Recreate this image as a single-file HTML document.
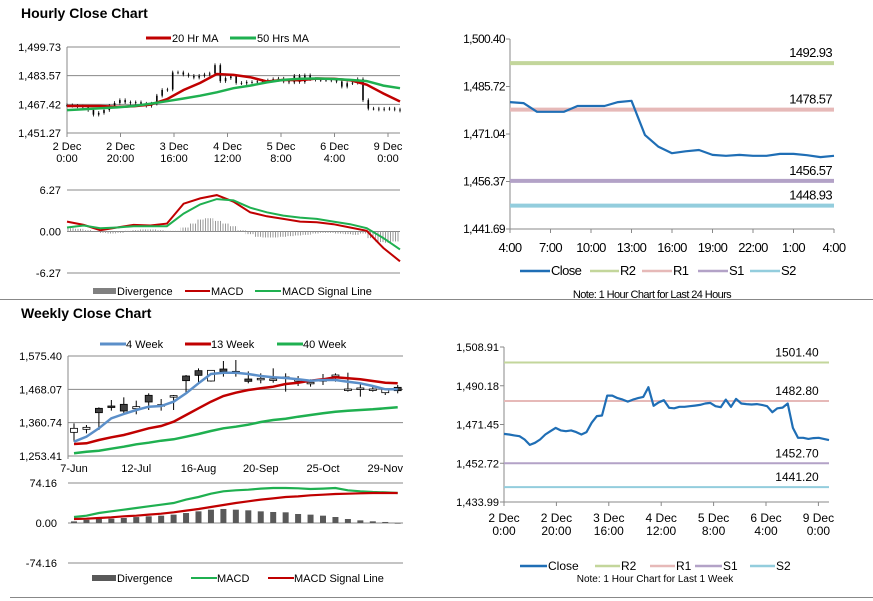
<!DOCTYPE html>
<html><head><meta charset="utf-8"><style>
html,body{margin:0;padding:0;background:#fff}
svg{display:block;font-family:"Liberation Sans",Arial,sans-serif}
</style></head><body>
<svg id="root" width="873" height="601" viewBox="0 0 873 601">
<defs><pattern id="hatch" width="2.5" height="4" patternUnits="userSpaceOnUse"><rect x="0" y="0" width="1" height="4" fill="#999"/></pattern></defs>
<text x="21" y="18" font-size="14" font-weight="bold">Hourly Close Chart</text>
<text x="21" y="318" font-size="14" font-weight="bold">Weekly Close Chart</text>
<line x1="0" y1="299.5" x2="873" y2="299.5" stroke="#888" stroke-width="1"/>
<line x1="10" y1="597.5" x2="873" y2="597.5" stroke="#888" stroke-width="1"/>
<g id="g"></g>
</svg>
<script>
// ---- data ----
const hourlyCloses=[1466.9,1466.6,1466.2,1465.8,1464.2,1461.6,1462.6,1464.2,1466.6,1468.2,1469.8,1468.6,1468.2,1468.6,1467.8,1466.6,1467.8,1472.3,1475.5,1475.8,1485.4,1485.4,1484.2,1483.5,1482.5,1483.5,1484.2,1484.8,1489.5,1480.5,1482.2,1483.2,1479.5,1479.3,1480.0,1480.0,1480.3,1480.6,1480.9,1481.6,1481.9,1480.3,1479.8,1483.5,1480.0,1483.8,1481.6,1481.3,1481.1,1481.3,1480.9,1480.3,1477.4,1479.3,1479.6,1481.6,1469.8,1465.0,1465.0,1464.5,1464.9,1465.0,1464.5,1463.9];
const ma20=[1466.5,1466.5,1466.5,1466.0,1466.3,1467.2,1470.3,1475.5,1479.5,1484.5,1484.0,1482.7,1480.3,1481.2,1481.0,1482.0,1481.8,1481.0,1478.5,1473.5,1469.0];
const ma50=[1464.2,1464.6,1465.2,1465.7,1466.5,1467.8,1469.2,1470.7,1472.3,1474.2,1476.5,1478.0,1479.8,1481.2,1481.8,1482.0,1481.7,1481.2,1480.5,1478.0,1476.5];
const hMacd=[1.5,1.0,0.2,0.6,1.0,0.9,1.2,4.2,5.0,5.5,4.5,2.9,2.3,1.9,1.5,1.4,1.1,0.6,0.1,-2.5,-4.5];
const hSignal=[0.6,0.9,0.5,0.6,0.8,0.8,0.8,2.7,4.1,4.9,4.7,3.6,2.9,2.4,2.1,1.9,1.5,1.1,0.5,-1.0,-2.7];
const hDiv=[0.5,0.4,0.2,0,-0.2,-0.3,-0.2,0.1,0.2,0.3,0.3,0.2,0.1,0.1,0.6,1.2,1.8,2.0,1.6,1.2,0.8,0.2,-0.4,-0.8,-0.9,-0.9,-0.8,-0.7,-0.6,-0.5,-0.3,-0.2,-0.2,-0.3,-0.4,-0.5,-0.3,-1.0,-1.6,-1.7,-1.5];
const hTicks=["1,451.27","1,467.42","1,483.57","1,499.73"];
const hTickVals=[1451.27,1467.42,1483.57,1499.73];
const hXLabels=[["2 Dec","0:00"],["2 Dec","20:00"],["3 Dec","16:00"],["4 Dec","12:00"],["5 Dec","8:00"],["6 Dec","4:00"],["9 Dec","0:00"]];
const hMacdTicks=["-6.27","0.00","6.27"];
const hMacdTickVals=[-6.27,0,6.27];

const dayCloses=[1480.9,1480.6,1477.9,1477.9,1477.9,1479.7,1479.7,1479.7,1480.9,1481.3,1470.7,1467.1,1465.1,1465.7,1466.1,1464.6,1464.3,1464.6,1464.3,1464.3,1464.9,1464.9,1464.5,1463.9,1464.3];
const dayTicks=["1,441.69","1,456.37","1,471.04","1,485.72","1,500.40"];
const dayTickVals=[1441.69,1456.37,1471.04,1485.72,1500.40];
const dayXLabels=["4:00","7:00","10:00","13:00","16:00","19:00","22:00","1:00","4:00"];
const dayLevels=[1492.93,1478.57,1456.57,1448.93];
const wkLevels=[1501.40,1482.80,1452.70,1441.20];
const levelNames=["R2","R1","S1","S2"];
const wkTicks=["1,433.99","1,452.72","1,471.45","1,490.18","1,508.91"];
const wkTickVals=[1433.99,1452.72,1471.45,1490.18,1508.91];

const wOpen=[1329.6,1339.3,1406.9,1414.4,1419.8,1405.8,1448.8,1416.6,1444.5,1511.0,1528.2,1494.9,1533.5,1523.9,1501.3,1501.3,1499.2,1505.6,1497.0,1488.5,1497.0,1509.9,1467.0,1470.2,1467.0,1457.3,1474.5];
const wClose=[1342.5,1345.7,1392.9,1410.1,1398.3,1412.3,1427.3,1418.7,1447.7,1496.0,1513.1,1529.2,1525.0,1526.0,1493.8,1503.5,1501.3,1507.8,1499.2,1490.6,1499.2,1514.2,1469.1,1472.4,1469.1,1468.1,1463.8];
const wHigh=[1358.6,1353.2,1410.1,1433.7,1442.3,1431.6,1455.2,1436.9,1449.8,1514.2,1535.7,1529.2,1559.3,1562.5,1526.0,1519.6,1535.7,1519.6,1511.0,1500.3,1517.4,1519.6,1521.7,1487.4,1478.8,1468.1,1482.0];
const wLow=[1299.6,1326.4,1337.1,1399.4,1390.8,1387.6,1401.5,1399.4,1401.5,1453.0,1487.4,1492.8,1508.9,1508.9,1487.4,1487.4,1489.5,1460.6,1478.8,1476.7,1482.0,1492.8,1460.6,1444.5,1460.6,1449.8,1455.2];
const w4=[1299.6,1315.7,1342.5,1374.7,1388.6,1401.5,1412.3,1414.4,1428.4,1455.2,1487.4,1517.4,1521.7,1521.7,1517.4,1511.0,1506.7,1504.5,1500.3,1496.0,1498.1,1498.1,1492.8,1487.4,1478.8,1468.1,1468.1];
const w13=[1292.1,1294.2,1304.9,1313.5,1321.0,1331.8,1342.5,1350.0,1364.0,1385.4,1406.9,1428.4,1446.6,1457.3,1465.9,1471.3,1476.7,1485.2,1489.5,1496.0,1500.3,1506.7,1503.5,1500.3,1494.9,1489.5,1487.4];
const w40=[1262.0,1267.4,1270.6,1277.0,1283.5,1291.0,1296.3,1302.8,1307.1,1315.7,1324.3,1333.9,1342.5,1347.9,1354.3,1362.9,1369.3,1373.6,1380.1,1385.4,1390.8,1396.2,1399.4,1401.5,1403.7,1406.9,1410.1];
const wMacd=[11.1,13.6,18.5,21.6,24.7,27.8,30.9,34.0,37.1,43.3,48.2,54.4,58.7,60.6,61.8,63.7,64.9,64.9,64.3,63.0,63.7,64.9,60.6,58.7,57.4,56.8,55.6];
const wSignal=[7.4,8.0,9.3,10.5,12.4,13.6,15.5,17.3,19.8,22.9,26.0,29.7,33.4,37.1,40.2,43.3,45.7,48.2,49.4,51.3,52.5,53.8,54.4,55.0,55.6,55.6,55.6];
const wDiv=[3.0,6.0,7.4,8.0,9.3,11.0,12.4,13.6,15.5,18.5,21.6,24.7,26.0,24.7,23.5,21.6,20.4,19.8,16.7,15.5,13.6,11.1,7.4,4.9,3.1,1.9,-1.2];
const wTicks=["1,253.41","1,360.74","1,468.07","1,575.40"];
const wTickVals=[1253.41,1360.74,1468.07,1575.40];
const wXLabels=["7-Jun","12-Jul","16-Aug","20-Sep","25-Oct","29-Nov"];
const wXLabelIdx=[0,5,10,15,20,25];
const wMacdTicks=["-74.16","0.00","74.16"];
const wMacdTickVals=[-74.16,0,74.16];

// ---- helpers ----
const NS="http://www.w3.org/2000/svg";
const G=document.getElementById('g');
function mk(tag,a,parent){const e=document.createElementNS(NS,tag);for(const k in a)e.setAttribute(k,a[k]);(parent||G).appendChild(e);return e;}
function lin(d0,d1,r0,r1){return v=>r0+(v-d0)*(r1-r0)/(d1-d0);}
function txt(x,y,s,opts){const e=mk('text',Object.assign({x:x,y:y,'font-size':11,fill:'#000'},opts||{}));e.textContent=s;return e;}
function pathFrom(arr,xs,ys){return arr.map((v,i)=>(i?'L':'M')+xs(i).toFixed(1)+','+ys(v).toFixed(1)).join('');}

// ===== Hourly top chart =====
{
const x=lin(0,hourlyCloses.length-1,67,400), y=lin(1451.27,1499.73,133,47);
hTickVals.forEach((v,i)=>{let l=mk('line',{x1:67,x2:400,y1:y(v),y2:y(v),stroke:'#888','stroke-width':1});


let t=txt(61,y(v)+4,hTicks[i],{'text-anchor':'end'});

});
let ax=mk('line',{x1:67,x2:67,y1:47,y2:136,stroke:'#888'});


hXLabels.forEach((lb,i)=>{const xx=67+i*53.5;
let tk=mk('line',{x1:xx,x2:xx,y1:133,y2:137,stroke:'#888'});


let t1=txt(xx,150,lb[0],{'text-anchor':'middle'});


let t2=txt(xx,162,lb[1],{'text-anchor':'middle'});

});
hourlyCloses.forEach((v,i)=>{const p=i?hourlyCloses[i-1]:v;
const hi=Math.max(p,v)+1.0, lo=Math.min(p,v)-1.0;
let c=mk('line',{x1:x(i),x2:x(i),y1:y(hi),y2:y(lo),stroke:'#000','stroke-width':0.8});


let b=mk('rect',{x:x(i)-0.8,y:y(Math.max(p,v)),width:1.6,height:Math.max(0.8,y(Math.min(p,v))-y(Math.max(p,v))),fill:'#000'});

});
const mx=lin(0,ma20.length-1,67,400);
let p1=mk('path',{d:pathFrom(ma20,mx,y),fill:'none',stroke:'#c00000','stroke-width':2.5});


let p2=mk('path',{d:pathFrom(ma50,mx,y),fill:'none',stroke:'#1fb050','stroke-width':2.5});


let l1=mk('line',{x1:146,x2:171,y1:38,y2:38,stroke:'#c00000','stroke-width':3});


let lt1=txt(172,42,'20 Hr MA');


let l2=mk('line',{x1:230,x2:256,y1:38,y2:38,stroke:'#1fb050','stroke-width':3});


let lt2=txt(257,42,'50 Hrs MA');


}
// ===== Hourly MACD =====
{
const y=lin(-6.27,6.27,273,190), mx=lin(0,hMacd.length-1,67,400);
hMacdTickVals.forEach((v,i)=>{let l=mk('line',{x1:67,x2:400,y1:y(v),y2:y(v),stroke:'#888'});


let t=txt(61,y(v)+4,hMacdTicks[i],{'text-anchor':'end'});

});
const bw=333/hDiv.length;
hDiv.forEach((v,i)=>{const y0=y(0),y1=y(v);
let r=mk('rect',{x:67+i*bw,y:Math.min(y0,y1),width:bw,height:Math.abs(y1-y0),fill:'url(#hatch)'});

});
let a=mk('path',{d:pathFrom(hMacd,mx,y),fill:'none',stroke:'#c00000','stroke-width':2});


let b=mk('path',{d:pathFrom(hSignal,mx,y),fill:'none',stroke:'#1fb050','stroke-width':2});


let r=mk('rect',{x:93,y:288,width:23,height:6,fill:'#808080'});


let t1=txt(117,295,'Divergence');


let l=mk('line',{x1:185,x2:210,y1:291,y2:291,stroke:'#c00000','stroke-width':2});


let t2=txt(211,295,'MACD');


let l2=mk('line',{x1:255,x2:281,y1:291,y2:291,stroke:'#1fb050','stroke-width':2});


let t3=txt(282,295,'MACD Signal Line');


}
// ===== Level charts =====
const lvlColors=['#c3d69b','#e6b9b8','#b3a2c7','#93cddd'];
function levelChart(o){
const x=lin(0,o.closes.length-1,o.x0,o.x1), y=lin(o.ticks[0],o.ticks[o.ticks.length-1],o.yb,o.yt);
let ax=mk('line',{x1:o.x0,x2:o.x0,y1:o.yt,y2:o.yb,stroke:'#888'});


let bx=mk('line',{x1:o.x0,x2:o.x1,y1:o.yb,y2:o.yb,stroke:'#888'});


o.ticks.forEach((v,i)=>{let tk=mk('line',{x1:o.x0-4,x2:o.x0,y1:y(v),y2:y(v),stroke:'#888'});


let t=txt(o.x0-5,y(v)+4,o.tickLabels[i],{'text-anchor':'end','font-size':o.fs,'letter-spacing':o.ls});

});
o.levels.forEach((v,i)=>{let l=mk('line',{x1:o.x0,x2:o.x1,y1:y(v),y2:y(v),stroke:lvlColors[i],'stroke-width':o.lw});


let t=txt(o.lblX,y(v)-o.lblOff,v.toFixed(2),{'text-anchor':o.lblAnchor,'font-size':o.fs+1,'letter-spacing':o.ls});

});
let c=mk('path',{d:pathFrom(o.closes,x,y),fill:'none',stroke:'#1f6eb5','stroke-width':2.2,'stroke-linejoin':'round'});


o.xl.forEach((lb,i)=>{const xx=o.x0+i*o.xs;
let tk=mk('line',{x1:xx,x2:xx,y1:o.yb,y2:o.yb+4,stroke:'#888'});


const parts=Array.isArray(lb)?lb:[lb];
parts.forEach((s,j)=>{let t=txt(xx,o.yb+o.xly+j*13,s,{'text-anchor':'middle','font-size':o.fs+1,'letter-spacing':o.ls});

});});
const names=['Close'].concat(levelNames), cols=['#1f6eb5'].concat(lvlColors);
names.forEach((n,i)=>{let l=mk('line',{x1:o.leg[i][0],x2:o.leg[i][1],y1:o.legY,y2:o.legY,stroke:cols[i],'stroke-width':2.5});


let t=txt(o.leg[i][1]+1,o.legY+4,n,{'font-size':o.fs+1,'letter-spacing':o.ls});

});
let nt=txt(o.noteX,o.noteY,o.note,{'text-anchor':'middle','font-size':o.fs-1,'letter-spacing':o.ls});


}
levelChart({p:'day',closes:dayCloses,x0:510,x1:834,yt:39,yb:229,ticks:dayTickVals,tickLabels:dayTicks,levels:dayLevels,lw:4,
 lblX:832,lblOff:6,lblAnchor:'end',xl:dayXLabels,xs:40.5,xly:23,fs:12,ls:-0.6,
 leg:[[520,550],[590,619],[642,672],[698,728],[750,780]],legY:271,note:'Note: 1 Hour Chart for Last 24 Hours',noteX:652,noteY:298});
levelChart({p:'week',closes:hourlyCloses,x0:504,x1:829,yt:347,yb:502,ticks:wkTickVals,tickLabels:wkTicks,levels:wkLevels,lw:2,
 lblX:797,lblOff:6,lblAnchor:'middle',xl:[["2 Dec","0:00"],["2 Dec","20:00"],["3 Dec","16:00"],["4 Dec","12:00"],["5 Dec","8:00"],["6 Dec","4:00"],["9 Dec","0:00"]],xs:52.4,xly:20,fs:11,ls:0,
 leg:[[520,547],[595,620],[650,675],[695,722],[750,775]],legY:566,note:'Note: 1 Hour Chart for Last 1 Week',noteX:655,noteY:582});

// ===== Weekly chart =====
{
const x=i=>74+i*12.45, y=lin(1253.41,1575.40,456,356);
wTickVals.forEach((v,i)=>{let l=mk('line',{x1:68,x2:403,y1:y(v),y2:y(v),stroke:'#888'});


let t=txt(62,y(v)+4,wTicks[i],{'text-anchor':'end'});

});
let ax=mk('line',{x1:68,x2:68,y1:356,y2:459,stroke:'#888'});


wXLabels.forEach((s,i)=>{let t=txt(x(wXLabelIdx[i]),472,s,{'text-anchor':'middle'});

});
wOpen.forEach((o,i)=>{const c=wClose[i];
let wk=mk('line',{x1:x(i),x2:x(i),y1:y(wHigh[i]),y2:y(wLow[i]),stroke:'#000'});


const top=y(Math.max(o,c)),h=Math.max(1.5,Math.abs(y(o)-y(c)));
let b=mk('rect',{x:x(i)-3.5,y:top,width:7,height:h,fill:c>=o?'#fff':'#404040',stroke:'#000','stroke-width':0.8});

});
[[w40,'#1fb050','ma40-line'],[w13,'#c00000','ma13-line'],[w4,'#5b8fc9','ma4-line']].forEach(s=>{
let p=mk('path',{d:pathFrom(s[0],x,y),fill:'none',stroke:s[1],'stroke-width':2.5});

});
const leg=[[100,126,'#5b8fc9','4 Week'],[185,211,'#c00000','13 Week'],[277,303,'#1fb050','40 Week']];
leg.forEach(l=>{let ln=mk('line',{x1:l[0],x2:l[1],y1:344,y2:344,stroke:l[2],'stroke-width':3});


let t=txt(l[1],348,l[3]);

});
// MACD
const my=lin(-74.16,74.16,563,483);
wMacdTickVals.forEach((v,i)=>{let l=mk('line',{x1:68,x2:403,y1:my(v),y2:my(v),stroke:'#888'});


let t=txt(57,my(v)+4,wMacdTicks[i],{'text-anchor':'end'});

});
wDiv.forEach((v,i)=>{const a=my(0),b=my(v);
let r=mk('rect',{x:x(i)-3,y:Math.min(a,b),width:6,height:Math.abs(b-a),fill:'#595959'});

});
let m1=mk('path',{d:pathFrom(wMacd,x,my),fill:'none',stroke:'#1fb050','stroke-width':2.2});


let m2=mk('path',{d:pathFrom(wSignal,x,my),fill:'none',stroke:'#c00000','stroke-width':2.2});


let r=mk('rect',{x:92,y:575,width:24,height:6,fill:'#595959'});


let t1=txt(117,582,'Divergence');


let a=mk('line',{x1:191,x2:217,y1:578,y2:578,stroke:'#1fb050','stroke-width':2});


let t2=txt(217,582,'MACD');


let b=mk('line',{x1:268,x2:294,y1:578,y2:578,stroke:'#c00000','stroke-width':2});


let t3=txt(294,582,'MACD Signal Line');


}
</script>
</body></html>
